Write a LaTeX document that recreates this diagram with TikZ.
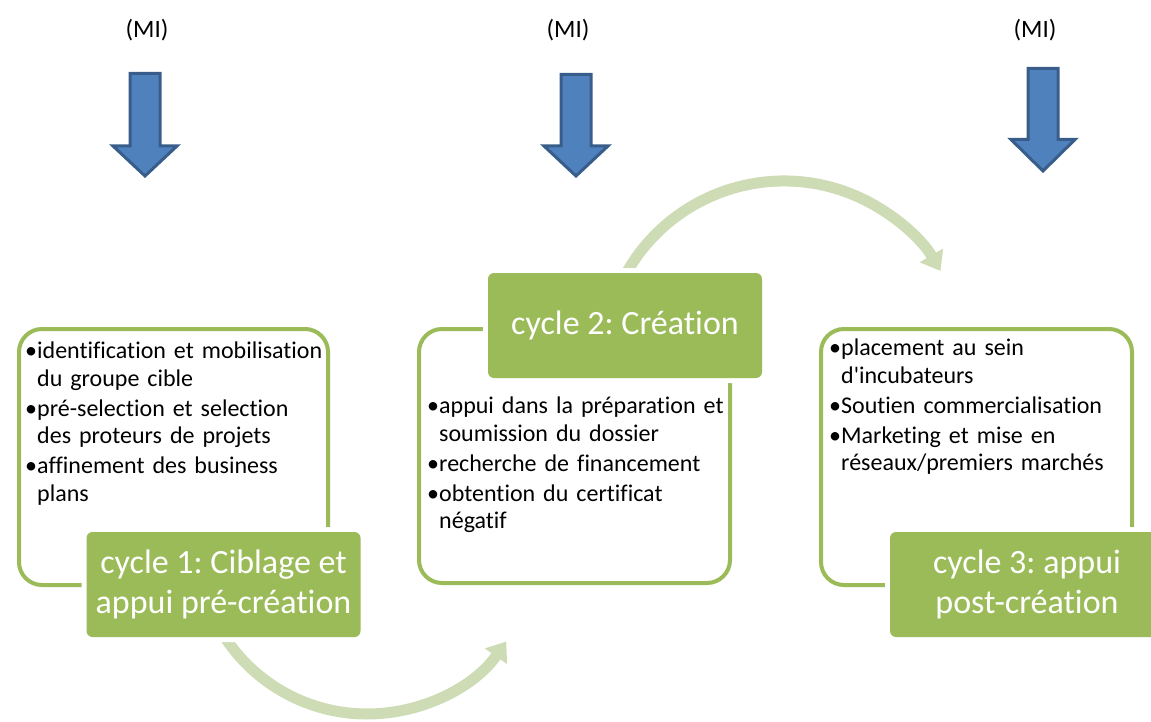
\documentclass[tikz,border=0pt]{standalone}
\usepackage{fontspec}
\setmainfont{Carlito}[Ligatures={NoCommon,TeXOff}]
\usetikzlibrary{arrows.meta}
\definecolor{boxgreen}{HTML}{9BBB59}
\definecolor{arcgreen}{HTML}{CDDCB4}
\definecolor{arrowblue}{HTML}{4F81BD}
\definecolor{arrowborder}{HTML}{385D8A}
\newcommand{\bitem}[1]{\noindent\hangindent=12pt\hangafter=1\makebox[12pt][l]{\textbullet}#1\par}
\newcommand{\dnarrow}[4]{%
  \draw[bluearrow] ({#1-15},#2) -- ({#1+15},#2) -- ({#1+15},#3) -- ({#1+32},#3)
    -- (#1,#4) -- ({#1-32},#3) -- ({#1-15},#3) -- cycle;}
\begin{document}
\frenchspacing
\begin{tikzpicture}[x=1pt,y=-1pt,
  frame/.style={draw=boxgreen, line width=4pt, rounded corners=23pt, anchor=north west, inner sep=0pt},
  title/.style={fill=boxgreen, rounded corners=6pt, text=white, font=\fontsize{34}{40}\selectfont,
    align=center, inner sep=0pt, minimum width=274pt, minimum height=105pt,
    preaction={draw=white, line width=10pt}},
  bullets/.style={anchor=north west, inner sep=0pt, text width=305pt, align=left,
    font=\fontsize{24}{27.5}\selectfont, execute at begin node={\setlength{\parskip}{2.5pt}}},
  arcarrow/.style={draw=arcgreen, line width=11pt, -{Triangle[length=18pt, width=26pt]}},
  bluearrow/.style={fill=arrowblue, draw=arrowborder, line width=3pt, line join=miter},
  mi/.style={font=\fontsize{25}{30}\selectfont, inner sep=0pt}]
\useasboundingbox (0,0) rectangle (1151,722);

% curved connectors (behind the boxes)
\coordinate (a1c) at (367,544);
\path (a1c) ++(150:170) coordinate (a1s);
\draw[arcarrow] (a1s) arc[start angle=150, end angle=35, radius=170];
\coordinate (a2c) at (784,362);
\path (a2c) ++(205:181) coordinate (a2s);
\draw[arcarrow] (a2s) arc[start angle=205, end angle=329.8, radius=181];

% frames
\node[frame, minimum width=309pt, minimum height=256pt] (f1) at (17,327) {};
\node[frame, minimum width=311pt, minimum height=254pt] (f2) at (417,327) {};
\node[frame, minimum width=311pt, minimum height=256pt] (f3) at (819,327) {};

% titles
\node[title] (t1) at (223.5,584.5) {cycle 1: Ciblage et\\appui pré-création};
\node[title] (t2) at (625,325.5) {cycle 2: Création};
\node[title] (t3) at (1027,584.5) {cycle 3: appui\\post-création};

% bullet texts
\node[bullets] (b1) at (25,342) {\bitem{identification et mobilisation\newline du groupe cible}\bitem{pré-selection et selection\newline des proteurs de projets}\bitem{affinement des business\newline plans}};
\node[bullets] (b2) at (427,397) {\bitem{appui dans la préparation et\newline soumission du dossier}\bitem{recherche de financement}\bitem{obtention du certificat\newline négatif}};
\node[bullets] (b3) at (829,339) {\bitem{placement au sein\newline d'incubateurs}\bitem{Soutien commercialisation}\bitem{Marketing et mise en\newline réseaux/premiers marchés}};

% top arrows
\dnarrow{145}{73.5}{146}{176}
\dnarrow{576}{74.5}{146}{176}
\dnarrow{1043}{68.5}{139.5}{171}
\node[mi] (m1) at (147,30) {(MI)};
\node[mi] (m2) at (568,30) {(MI)};
\node[mi] (m3) at (1035,30) {(MI)};
\end{tikzpicture}
\end{document}
